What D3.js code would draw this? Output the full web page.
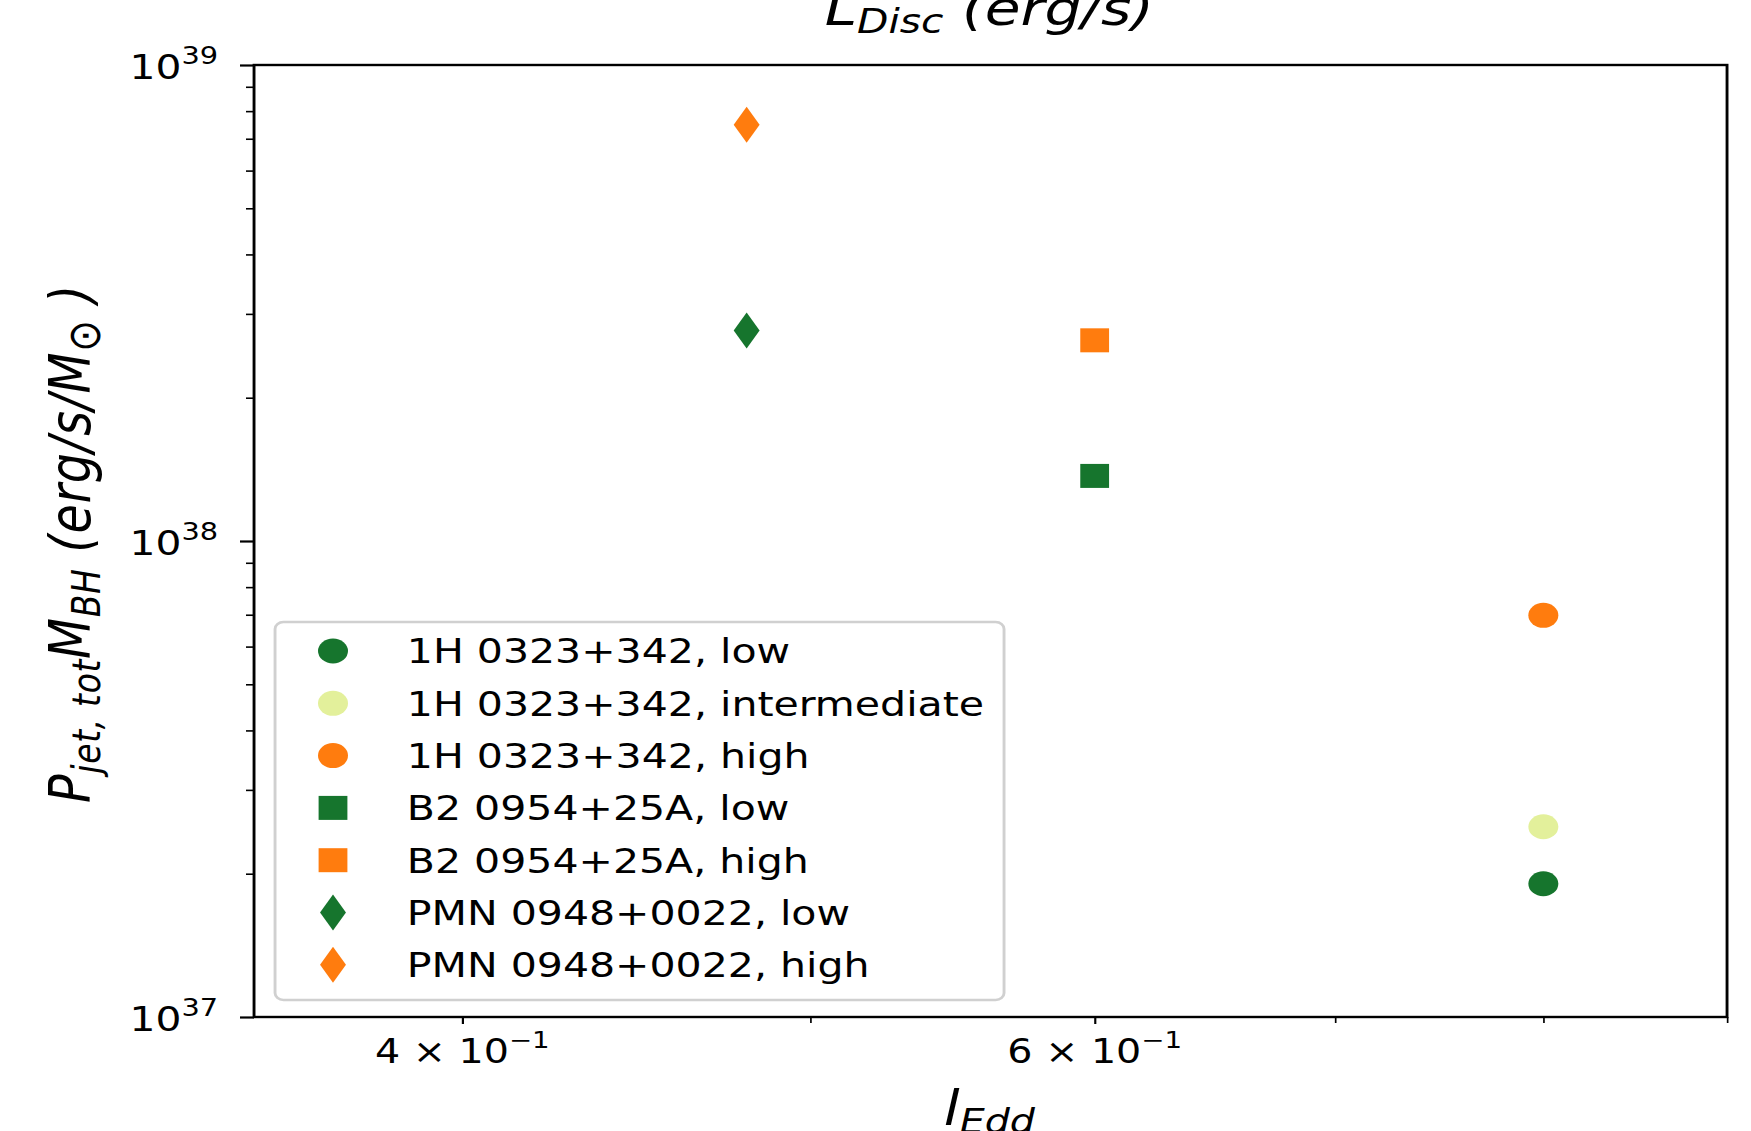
<!DOCTYPE html>
<html>
<head>
<meta charset="utf-8">
<script src="https://cdn.jsdelivr.net/npm/d3@7"></script>
<style>
  body { margin: 0; background: #fff; }
  svg { display: block; }
  text { font-family: "DejaVu Sans", sans-serif; fill: #000; }
</style>
</head>
<body>
<div id="chart"></div>
<script>
// Sources / states
const labels = [
    '1H 0323+342, low',
    '1H 0323+342, intermediate',
    '1H 0323+342, high',
    'B2 0954+25A, low',
    'B2 0954+25A, high',
    'PMN 0948+0022, low',
    'PMN 0948+0022, high'
];
// l_Edd and P_jet,tot * M_BH (erg/s/Msun)
const lEdd = [0.8, 0.8, 0.8, 0.6, 0.6, 0.48, 0.48];
const pJet = [1.905e37, 2.51e37, 6.98e37, 1.37e38, 2.64e38, 2.77e38, 7.49e38];
const colors = ['#16752d', '#e3f09b', '#ff7c0e', '#16752d', '#ff7c0e', '#16752d', '#ff7c0e'];
const shapes = ['circle', 'circle', 'circle', 'square', 'square', 'diamond', 'diamond'];

// axes
const xDomain = [0.35, 0.9];
const yDomain = [1e37, 1e39];
const xMajor = [0.4, 0.6];
const xMinor = [0.5, 0.7, 0.8, 0.9];
const xTickLabels = ['4', '6'];
const yMajor = [1e37, 1e38, 1e39];
const yMinor = [2e37, 3e37, 4e37, 5e37, 6e37, 7e37, 8e37, 9e37,
                2e38, 3e38, 4e38, 5e38, 6e38, 7e38, 8e38, 9e38];
const yTickExp = ['37', '38', '39'];

// the original figure is stretched horizontally, so draw in a narrower box
const sx = 1.2;
const width = 1751 / sx;
const height = 1131;
const plot = { left: 211.7, right: 1439.2, top: 65, bottom: 1017 };

const svg = d3.select('#chart')
    .append('svg')
    .attr('width', 1751)
    .attr('height', height)
    .attr('viewBox', `0 0 ${width} ${height}`)
    .attr('preserveAspectRatio', 'none');

const x = d3.scaleLog().domain(xDomain).range([plot.left, plot.right]);
const y = d3.scaleLog().domain(yDomain).range([plot.bottom, plot.top]);

// marker shapes
function markerPath(shape) {
    if (shape === 'circle') return d3.symbol(d3.symbolCircle, Math.PI * 12.5 * 12.5)();
    if (shape === 'square') return d3.symbol(d3.symbolSquare, 24 * 24)();
    return 'M0,-18L10.8,0L0,18L-10.8,0Z';
}

// ticks
function tickAxis(axis, g) {
    g.call(axis);
    g.select('.domain').remove();
    g.selectAll('.tick line').attr('stroke', '#000');
}

const yMajorG = svg.append('g').attr('transform', `translate(${plot.left},0)`);
tickAxis(d3.axisLeft(y).tickValues(yMajor).tickSize(11.7).tickFormat(''), yMajorG);
yMajorG.selectAll('.tick line').attr('stroke-width', 2.2);

const yMinorG = svg.append('g').attr('transform', `translate(${plot.left},0)`);
tickAxis(d3.axisLeft(y).tickValues(yMinor).tickSize(6.7).tickFormat(''), yMinorG);
yMinorG.selectAll('.tick line').attr('stroke-width', 1.6);

const xMajorG = svg.append('g').attr('transform', `translate(0,${plot.bottom})`);
tickAxis(d3.axisBottom(x).tickValues(xMajor).tickSize(7).tickFormat(''), xMajorG);
xMajorG.selectAll('.tick line').attr('stroke-width', 1.8);

const xMinorG = svg.append('g').attr('transform', `translate(0,${plot.bottom})`);
tickAxis(d3.axisBottom(x).tickValues(xMinor).tickSize(6).tickFormat(''), xMinorG);
xMinorG.selectAll('.tick line').attr('stroke-width', 1.4);

// y tick labels 10^N
yMajor.forEach((v, i) => {
    const t = svg.append('text')
        .attr('x', 181.7)
        .attr('y', y(v) + 14)
        .attr('text-anchor', 'end')
        .style('font-size', '34px');
    t.append('tspan').text('10');
    t.append('tspan').attr('dy', -15).style('font-size', '24px').text(yTickExp[i]);
});

// x tick labels  n x 10^-1
xMajor.forEach((v, i) => {
    const t = svg.append('text')
        .attr('x', x(v))
        .attr('y', 1063)
        .attr('text-anchor', 'middle')
        .style('font-size', '33px');
    t.append('tspan').text(xTickLabels[i] + ' \u00d7 10');
    t.append('tspan').attr('dy', -15).style('font-size', '23px').text('\u22121');
});

// frame
svg.append('rect')
    .attr('x', plot.left)
    .attr('y', plot.top)
    .attr('width', plot.right - plot.left)
    .attr('height', plot.bottom - plot.top)
    .attr('fill', 'none')
    .attr('stroke', '#000')
    .attr('stroke-width', 2.4);

// points
svg.append('g').selectAll('path')
    .data(labels.map((d, i) => i))
    .enter()
    .append('path')
    .attr('d', i => markerPath(shapes[i]))
    .attr('transform', i => `translate(${x(lEdd[i])},${y(pJet[i])})`)
    .attr('fill', i => colors[i]);

// legend
const legend = svg.append('g');
legend.append('rect')
    .attr('x', 229.2)
    .attr('y', 622)
    .attr('width', 836.7 - 229.2)
    .attr('height', 1000 - 622)
    .attr('rx', 7)
    .attr('fill', '#fff')
    .attr('fill-opacity', 0.8)
    .attr('stroke', '#d0d0d0')
    .attr('stroke-width', 2.4);

labels.forEach((name, i) => {
    const cy = 651 + i * 52.3;
    legend.append('path')
        .attr('d', markerPath(shapes[i]))
        .attr('transform', `translate(277.5,${cy})`)
        .attr('fill', colors[i]);
    legend.append('text')
        .attr('x', 339)
        .attr('y', cy + 12.5)
        .style('font-size', '34.2px')
        .text(name);
});

// title (cut at the top, as in the original)
const title = svg.append('text')
    .attr('x', (plot.left + plot.right) / 2 - 1)
    .attr('y', 25)
    .attr('text-anchor', 'middle')
    .style('font-size', '48.5px')
    .style('font-style', 'italic');
title.append('tspan').text('L');
title.append('tspan').attr('dy', 8).style('font-size', '34px').text('Disc');
title.append('tspan').attr('dy', -8).text(' (erg/s)');

// x label
const xLabel = svg.append('text')
    .attr('x', (plot.left + plot.right) / 2 - 1)
    .attr('y', 1125)
    .attr('text-anchor', 'middle')
    .style('font-size', '47.6px')
    .style('font-style', 'italic');
xLabel.append('tspan').text('l');
xLabel.append('tspan').attr('dy', 8).style('font-size', '33px').text('Edd');

// y label
const yLabel = svg.append('text')
    .attr('transform', `translate(75,544) rotate(-90)`)
    .attr('text-anchor', 'middle')
    .attr('textLength', 518)
    .attr('lengthAdjust', 'spacing')
    .style('font-size', '47.6px')
    .style('font-style', 'italic');
yLabel.append('tspan').text('P');
yLabel.append('tspan').attr('dy', 8).style('font-size', '33px').text('jet, tot');
yLabel.append('tspan').attr('dy', -8).text('M');
yLabel.append('tspan').attr('dy', 8).style('font-size', '33px').text('BH');
yLabel.append('tspan').attr('dy', -8).text(' (erg/s/M');
yLabel.append('tspan').attr('dy', 8).style('font-size', '38px').style('font-style', 'normal').text('\u2299');
yLabel.append('tspan').attr('dy', -8).text(' )');
</script>
</body>
</html>
